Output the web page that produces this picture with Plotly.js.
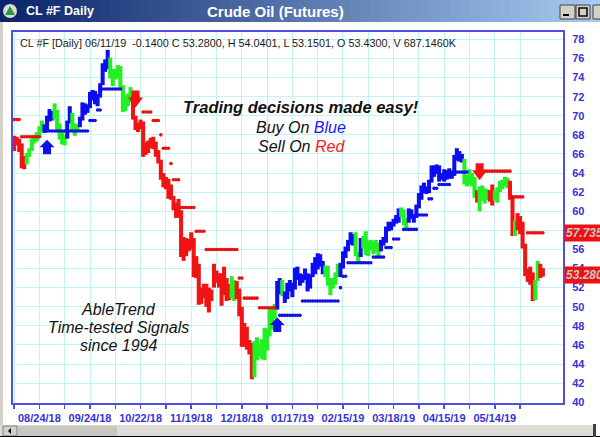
<!DOCTYPE html>
<html><head><meta charset="utf-8">
<script src="https://cdn.plot.ly/plotly-3.0.1.min.js"></script>
<style>html,body{margin:0;padding:0;background:#fff;overflow:hidden}#chart{width:600px;height:437px}</style>
</head><body><div id="chart"></div>
<script>
// ---------- DATA ----------
const tickIdx = [10,30,50,70,90,110,130,150,170,190];
const tickLabels = ['08/24/18','09/24/18','10/22/18','11/19/18','12/18/18','01/17/19','02/15/19','03/18/19','04/15/19','05/14/19'];
const yTickVals = [40,42,44,46,48,50,52,54,56,58,60,62,64,66,68,70,72,74,76,78];

const high = [67.9,67.8,67.6,67.1,65.8,66.1,66.6,67.6,68.0,68.3,
68.9,69.5,69.1,70.0,70.7,70.5,71.3,70.6,69.2,68.3,
68.0,69.5,71.0,70.3,69.2,69.1,69.9,71.4,71.3,71.2,
72.5,72.7,72.6,72.3,73.4,75.5,75.9,76.9,76.1,74.9,
74.9,75.3,75.2,73.2,72.1,72.3,73.0,72.1,70.0,69.3,
69.6,69.4,67.2,67.4,67.7,67.8,67.3,66.4,65.4,64.0,
63.6,63.4,62.8,61.6,60.9,61.3,60.1,57.3,57.2,57.1,
57.8,57.2,55.3,54.5,52.0,52.4,52.4,52.0,51.8,54.5,
53.8,53.5,53.5,54.2,53.0,52.4,53.2,52.8,52.7,51.9,
50.0,48.3,47.9,46.5,46.2,46.4,46.8,46.0,46.6,47.8,
47.7,49.8,49.8,50.3,52.7,53.0,52.8,51.6,52.5,52.8,
52.5,54.1,54.2,53.5,53.4,54.0,53.5,53.4,54.6,55.2,
55.6,55.5,54.8,54.3,54.3,53.0,53.0,53.6,54.5,54.6,
55.8,56.3,57.0,57.8,57.6,57.8,55.8,57.2,57.4,57.9,
56.9,57.0,56.8,57.0,56.7,57.0,57.3,58.4,58.9,58.9,
59.2,59.6,60.3,60.4,60.2,59.3,60.3,60.2,59.7,60.7,
61.9,62.7,63.0,62.6,63.3,64.8,64.8,64.9,64.8,64.0,
64.4,64.3,64.5,64.1,65.9,66.6,66.3,66.0,65.5,63.8,
64.4,64.0,63.6,62.2,62.6,62.7,62.4,62.3,62.2,62.8,
62.2,62.5,63.2,63.3,63.6,63.5,63.2,61.4,59.0,59.8,
59.5,58.9,56.6,54.0,54.2,53.6,52.8,54.8,54.5,54.04];

const low = [66.3,66.9,66.2,64.5,64.4,64.9,65.7,66.3,67.1,67.3,
67.7,68.3,68.2,68.4,69.4,69.5,69.6,68.4,67.5,67.0,
66.9,67.6,69.2,68.5,67.9,68.3,68.8,69.5,70.1,70.3,
70.8,71.6,71.2,71.0,71.9,73.2,74.6,74.9,73.9,73.1,
73.8,73.9,72.7,70.4,70.5,71.0,71.4,69.6,68.5,68.3,
68.6,65.7,65.9,66.1,66.6,66.5,65.7,65.0,63.3,62.5,
62.3,61.3,61.2,60.1,59.3,59.3,55.2,54.8,55.3,55.8,
56.0,53.1,53.0,50.2,50.3,50.9,50.0,49.4,50.6,52.0,
52.5,52.0,50.1,51.2,50.6,50.7,50.9,50.6,50.8,49.0,
45.8,45.8,45.5,45.0,42.4,42.6,44.4,44.8,44.5,44.4,
45.4,46.9,47.6,48.7,49.7,51.3,51.1,50.4,50.8,51.6,
51.0,51.8,52.8,52.2,52.5,52.8,51.6,51.9,53.1,53.4,
53.9,54.2,53.4,53.1,52.2,51.2,51.9,52.3,53.1,53.1,
54.0,55.1,55.8,56.5,56.4,55.3,54.5,55.2,56.1,55.4,
55.3,55.9,55.5,55.7,55.1,55.8,56.4,56.7,57.9,58.0,
58.4,58.7,58.8,59.4,58.5,58.2,58.8,59.2,58.8,59.3,
60.3,61.2,61.9,61.8,61.9,63.0,63.6,63.9,63.1,63.3,
63.1,63.3,63.4,63.4,63.7,65.3,65.2,65.1,62.8,62.6,
62.8,62.6,61.4,60.9,60.0,61.1,60.8,61.2,61.0,60.6,
61.1,60.9,62.0,62.3,62.6,62.4,61.2,57.4,57.4,58.0,
57.6,56.1,53.2,52.6,52.3,50.6,50.7,52.7,53.0,53.15];

// trend state of each bar as runs: [state, number of bars]
const trendRuns = [['R',5],['G',7],['B',4],['G',5],['B',2],['G',3],['B',12],['G',9],
['R',39],['G',2],['R',7],['G',9],['B',2],['G',1],['B',16],['G',6],['B',6],['G',2],['B',1],
['G',7],['B',8],['G',3],['B',22],['G',5],['R',1],['G',4],['R',2],['G',6],['R',2],['G',1],
['R',7],['G',2],['R',2]];

// stop levels: [first bar, last bar, level, side]
const stopSegments = [[0,2,69.6,'R'],[3,10,67.8,'R'],
[13,29,68.4,'B'],[30,32,69.5,'B'],[33,34,70.6,'B'],[35,42,72.8,'B'],
[51,54,70.4,'R'],[55,57,69.5,'R'],[58,58,68.0,'R'],[59,61,66.6,'R'],[62,62,65.0,'R'],
[63,65,63.3,'R'],[66,71,60.4,'R'],[72,75,57.9,'R'],[76,88,56.0,'R'],[89,90,53.0,'R'],
[91,96,50.9,'R'],[97,103,49.9,'R'],
[105,113,49.1,'B'],[114,128,50.6,'B'],[129,129,52.0,'B'],[130,131,53.2,'B'],[132,141,54.6,'B'],
[142,146,55.2,'B'],[147,149,56.2,'B'],[150,152,57.1,'B'],[154,159,58.1,'B'],[160,163,59.6,'B'],
[164,165,61.3,'B'],[166,167,62.4,'B'],[168,172,62.8,'B'],[173,179,64.1,'B'],
[185,196,64.2,'R'],[197,201,61.5,'R'],[203,209,57.735,'R']];

const signalIdx = [13,48,104,184];
const signalPrice = [66.7,71.8,48.1,64.2];
const signalDir = ['up','down','up','down'];

const lastClose = 53.28;
const lastStop = 57.735;
const headerText = 'CL #F [Daily] 06/11/19  -0.1400 C 53.2800, H 54.0401, L 53.1501, O 53.4300, V 687.1460K';

// ---------- STYLE / BUILD ----------
const COL = {B:'#0d0df2', G:'#22f022', R:'#f01414'};
const DOT = {B:'#1010e0', R:'#e81010'};
const AXB = '#4f4fe0';
const LBL = '#3434d6';
const FONT = 'Arial, "Liberation Sans", sans-serif';

const idx = high.map((_, i) => i);
const colors = [];
trendRuns.forEach(([s, n]) => { for (let k = 0; k < n; k++) colors.push(COL[s]); });

const dots = {B:{x:[],y:[]}, R:{x:[],y:[]}};
stopSegments.forEach(([a, b, lv, s]) => { for (let i = a; i <= b; i++) { dots[s].x.push(i); dots[s].y.push(lv); } });

const traces = [
  {type:'bar', x: idx, base: low, y: high.map((h, i) => h - low[i]), width: 1.6,
   marker:{color: colors, line:{width:0}}, hoverinfo:'skip'},
  {type:'scatter', mode:'markers', x: dots.R.x, y: dots.R.y, marker:{size:3.6, color: DOT.R}, hoverinfo:'skip'},
  {type:'scatter', mode:'markers', x: dots.B.x, y: dots.B.y, marker:{size:3.6, color: DOT.B}, hoverinfo:'skip'}
];

// plot area in pixels: x 13..563, y 32..403
const L = 13, R = 563, T = 32, Bt = 403;
const px2x = p => (p - L) / (R - L);
const py2y = p => (Bt - p) / (Bt - T);

const shapes = [];
const rectPx = (x0, x1, y0, y1, fill, line, layer) => shapes.push({type:'rect', xref:'paper', yref:'paper',
  x0:px2x(x0), x1:px2x(x1), y0:py2y(y1), y1:py2y(y0), fillcolor:fill, line: line || {width:0}, layer: layer || 'above'});

// title bar gradient
const c0 = [10, 36, 106], c1 = [166, 202, 240];
for (let k = 0; k < 60; k++) {
  const t = k / 59;
  const c = c0.map((v, j) => Math.round(v + (c1[j] - v) * t));
  rectPx(k*10, k*10 + 10.6, 0, 22, `rgb(${c[0]},${c[1]},${c[2]})`);
}
// icon
shapes.push({type:'circle', xref:'paper', yref:'paper', x0:px2x(3), x1:px2x(17), y0:py2y(18), y1:py2y(4),
  fillcolor:'#d8dcd8', line:{width:0}, layer:'above'});
shapes.push({type:'path', xref:'paper', yref:'paper', layer:'above', fillcolor:'#2a9a3a', line:{width:0},
  path:`M ${px2x(10)},${py2y(6)} L ${px2x(15)},${py2y(15)} L ${px2x(5)},${py2y(15)} Z`});
// window buttons
[[560,575],[576,590],[593,608]].forEach(([a, b]) => rectPx(a, b, 5, 19, '#d4d0c8', {color:'#404040', width:1}));
rectPx(563, 569, 14, 16, '#000');
rectPx(579, 587, 8, 16, 'rgba(0,0,0,0)', {color:'#000', width:1.5});
// left frame strip
rectPx(0, 3, 22, 437, '#d4d0c8');
// scrollbar
rectPx(0, 596, 425, 437, '#dedcd7');
rectPx(18, 117, 426, 436, '#c9c7c2');
rectPx(3, 17, 426, 436, '#d4d0c8', {color:'#808080', width:1});
shapes.push({type:'path', xref:'paper', yref:'paper', layer:'above', fillcolor:'#000', line:{width:0},
  path:`M ${px2x(8)},${py2y(431)} L ${px2x(11)},${py2y(428)} L ${px2x(11)},${py2y(434)} Z`});
rectPx(0, 600, 436, 437, '#000');
rectPx(593, 596, 424, 437, '#404040');

// signal arrows (pixel-sized, anchored at data points)
const upPath = 'M -4,-7 L 4,-7 L 4,0 L 7.5,0 L 0,7.5 L -7.5,0 L -4,0 Z';
const dnPath = 'M -4,8 L 4,8 L 4,1 L 7.5,1 L 0,-9 L -7.5,1 L -4,1 Z';
signalIdx.forEach((si, k) => {
  const up = signalDir[k] === 'up';
  shapes.push({type:'path', xref:'x', yref:'y', xsizemode:'pixel', ysizemode:'pixel',
    xanchor: si, yanchor: signalPrice[k], path: up ? upPath : dnPath,
    fillcolor: up ? '#1010e8' : '#ee1414', line:{width:0}, layer:'above'});
});

const tickvals = [];
const ticktext = [];
for (let v = 0; v <= 200; v += 10) {
  tickvals.push(v);
  const j = tickIdx.indexOf(v);
  ticktext.push(j >= 0 ? tickLabels[j] : '');
}
// y labels: the 58 label sits under the stop-price box in the reference
const yTickText = yTickVals.map(v => (v === 58 ? '' : String(v)));

const ann = (x, y, text, font, extra) => Object.assign({xref:'paper', yref:'paper', x: px2x(x), y: py2y(y),
  xanchor:'center', yanchor:'middle', text, showarrow:false, font: Object.assign({family: FONT}, font)}, extra || {});

const annotations = [
  ann(24, 11, 'CL #F Daily', {size:12.5, color:'#fff', weight:700}, {xanchor:'left'}),
  ann(275, 11, 'Crude Oil (Futures)', {size:15, color:'#fff', weight:700}),
  ann(18, 43, headerText, {size:10.8, color:'#1a1a1a'}, {xanchor:'left'}),
  ann(301, 107, 'Trading decisions made easy!', {size:16.5, color:'#111', weight:700, style:'italic'}),
  ann(301, 127, 'Buy On <span style="color:#1a1aff">Blue</span>', {size:16, color:'#111', style:'italic'}),
  ann(301, 146, 'Sell On <span style="color:#ff1a1a">Red</span>', {size:16, color:'#111', style:'italic'}),
  ann(118, 309, 'AbleTrend', {size:16, color:'#111', style:'italic'}),
  ann(118, 327, 'Time-tested Signals', {size:16, color:'#111', style:'italic'}),
  ann(118, 345, 'since 1994', {size:16, color:'#111', style:'italic'}),
  {xref:'paper', yref:'y', x:1, xanchor:'left', yanchor:'middle', xshift:1, y:lastStop, text:lastStop.toFixed(3), showarrow:false,
   bgcolor:'#ee1111', borderpad:1, font:{family:FONT, size:12, color:'#c8c8c8', weight:700, style:'italic'}},
  {xref:'paper', yref:'y', x:1, xanchor:'left', yanchor:'middle', xshift:1, y:lastClose, text:lastClose.toFixed(3), showarrow:false,
   bgcolor:'#ee1111', borderpad:1, font:{family:FONT, size:12, color:'#c8c8c8', weight:700, style:'italic'}}
];

const layout = {
  width:600, height:437, autosize:false,
  margin:{l:L, r:600-R, t:T, b:437-Bt, pad:0},
  paper_bgcolor:'#fff', plot_bgcolor:'#fff',
  showlegend:false, hovermode:false, barmode:'overlay',
  font:{family:FONT},
  xaxis:{range:[-0.435, 216.96], tickmode:'array', tickvals, ticktext,
    showgrid:true, gridcolor:'#c4f3f3', gridwidth:1, zeroline:false,
    showline:true, linecolor:AXB, linewidth:2, mirror:true,
    ticks:'outside', ticklen:4, tickwidth:1.5, tickcolor:AXB,
    tickfont:{family:FONT, size:11, color:LBL, weight:700}, fixedrange:true},
  yaxis:{range:[39.92, 78.77], side:'right', tickmode:'array', tickvals:yTickVals, ticktext:yTickText,
    showgrid:true, gridcolor:'#c4f3f3', gridwidth:1, zeroline:false,
    showline:true, linecolor:AXB, linewidth:2, mirror:true, ticks:'', ticklabelstandoff:5,
    tickfont:{family:FONT, size:11, color:LBL, weight:700}, fixedrange:true},
  shapes, annotations
};

Plotly.newPlot('chart', traces, layout, {staticPlot:true, displayModeBar:false});
</script></body></html>
